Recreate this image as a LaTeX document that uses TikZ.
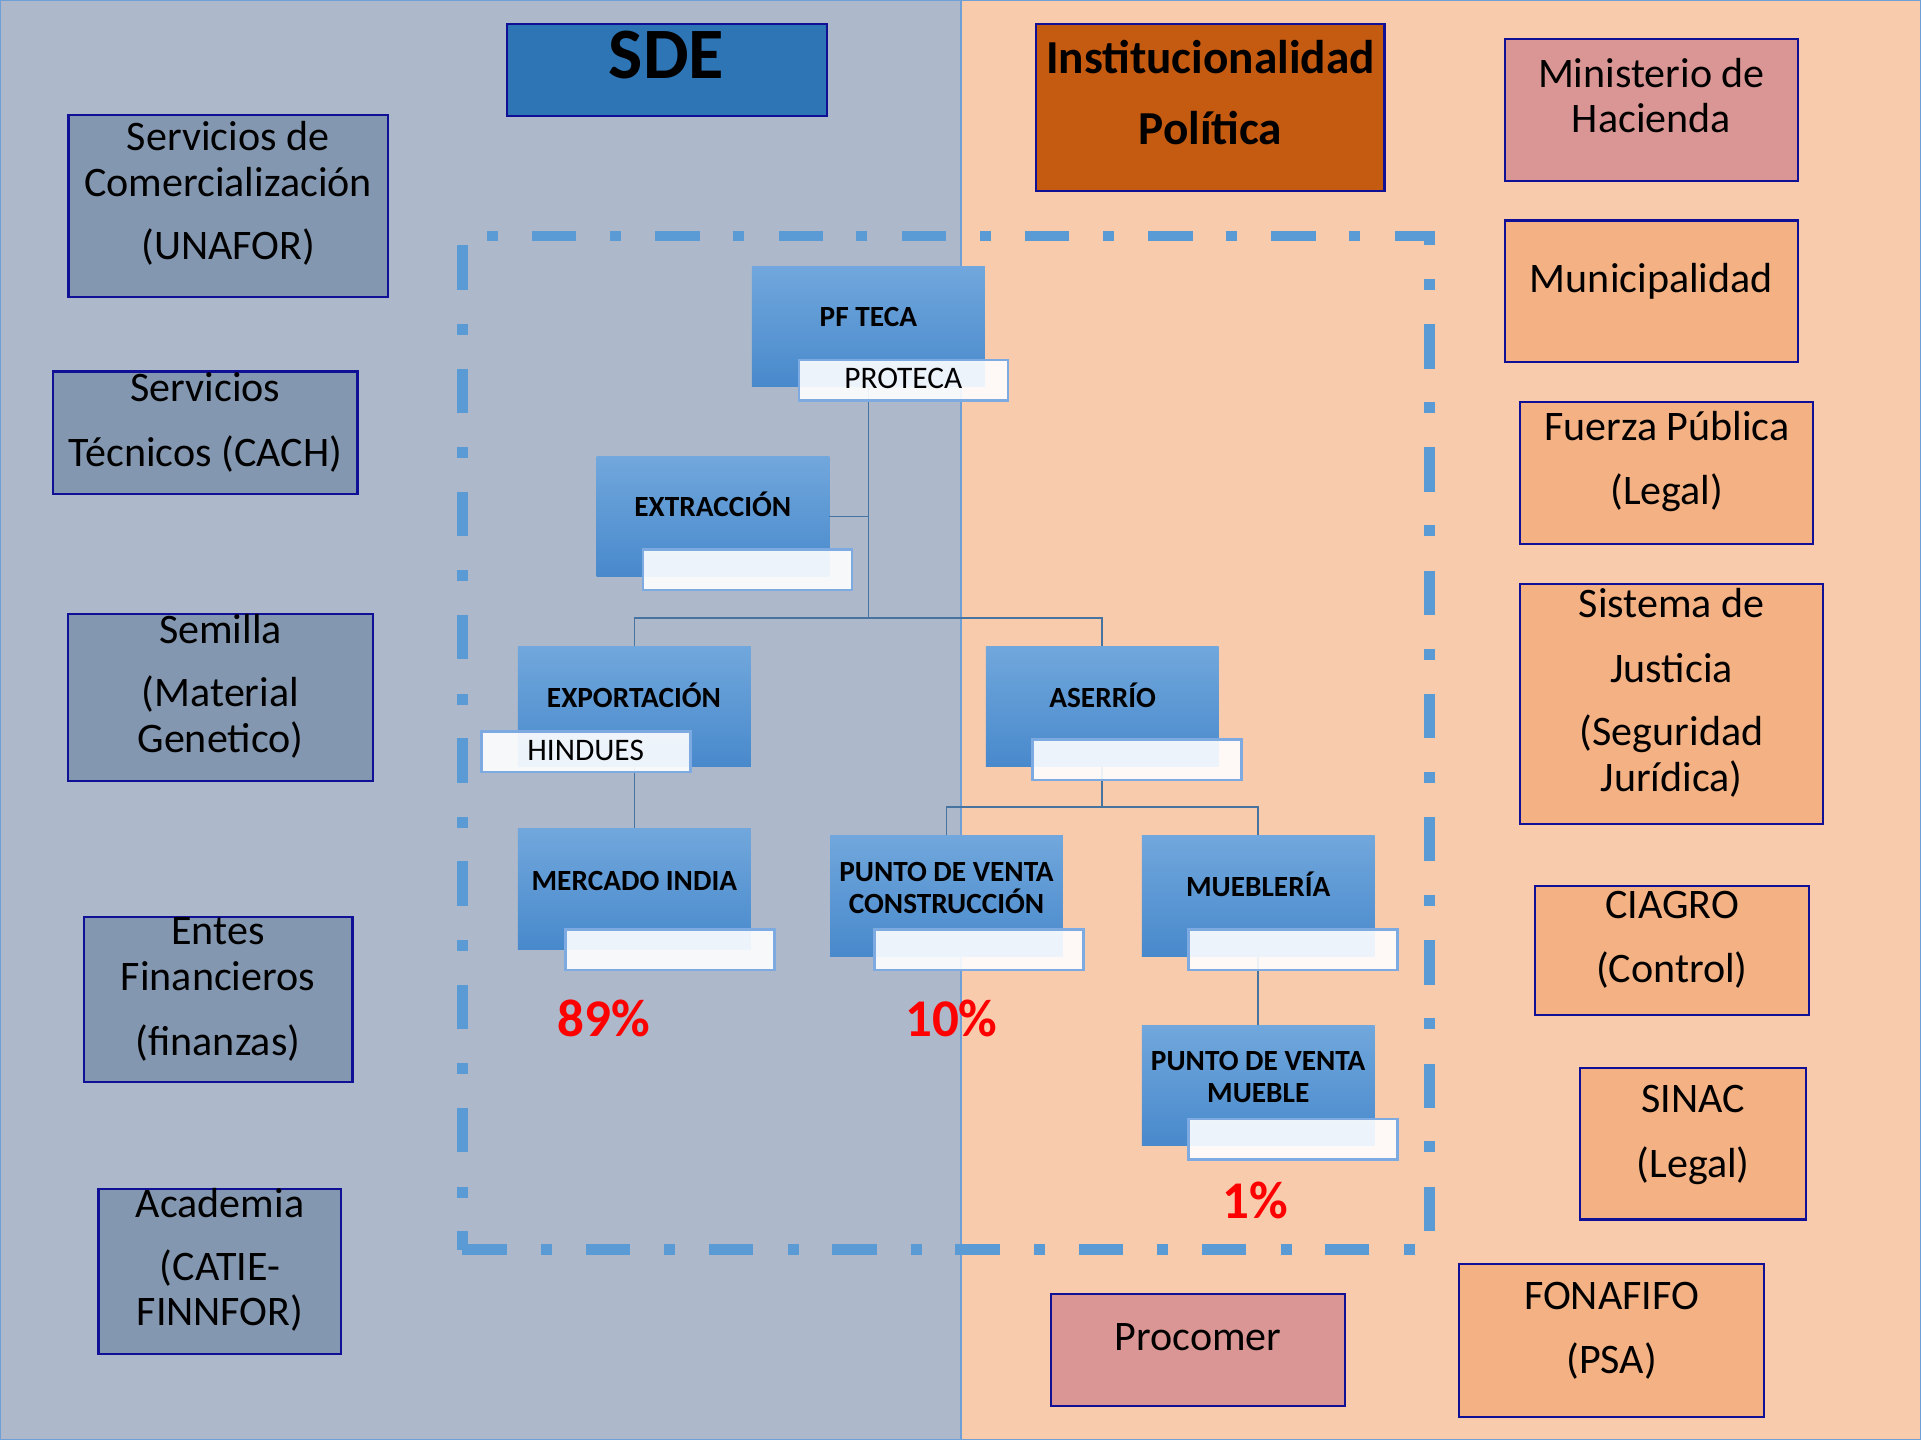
\documentclass[tikz,border=0pt]{standalone}
\usepackage{fontspec}
\setmainfont{Carlito}
\definecolor{bgL}{RGB}{173,185,202}
\definecolor{bgR}{RGB}{248,203,173}
\definecolor{edge}{RGB}{110,160,215}
\definecolor{navy}{RGB}{16,16,150}
\definecolor{slateF}{RGB}{132,151,176}
\definecolor{sdeF}{RGB}{46,117,182}
\definecolor{instF}{RGB}{197,90,17}
\definecolor{pinkF}{RGB}{218,150,148}
\definecolor{peachF}{RGB}{244,177,131}
\definecolor{frameC}{RGB}{91,155,213}
\definecolor{orgTop}{RGB}{113,167,220}
\definecolor{orgBot}{RGB}{72,137,204}
\definecolor{ttlB}{RGB}{125,170,225}
\definecolor{connC}{RGB}{70,115,160}
\tikzset{
  sbox/.style={rectangle, draw=navy, line width=0.5pt, inner sep=0pt, outer sep=0pt},
  orgbox/.style={rectangle, draw=none, inner sep=0pt, outer sep=0pt, top color=orgTop, bottom color=orgBot, minimum width=1.9cm, minimum height=0.985cm},
  ttlbox/.style={rectangle, draw=ttlB, line width=0.6pt, fill=white, fill opacity=0.9, inner sep=0pt, outer sep=0pt, minimum width=1.705cm, minimum height=0.33cm},
  bt/.style={anchor=base, inner sep=0pt, font=\fontsize{9.76pt}{11pt}\selectfont},
  orgt/.style={anchor=base, inner sep=0pt, font=\bfseries\fontsize{6.8pt}{8pt}\selectfont},
  ttlt/.style={anchor=base, inner sep=0pt, font=\fontsize{7.28pt}{8.5pt}\selectfont},
  pct/.style={anchor=base, inner sep=0pt, text={rgb,255:red,255;green,0;blue,0}, font=\bfseries\fontsize{12.3pt}{14pt}\selectfont},
  conn/.style={draw=connC, line width=0.4pt},
  frame/.style={draw=frameC, line width=2.47pt, dash pattern=on 10.30pt off 7.97pt on 2.56pt off 7.77pt}
}
\begin{document}
\begin{tikzpicture}[x=0.01cm, y=-0.01cm]
\useasboundingbox (0,0) rectangle (1568,1175.4);
% backgrounds
\fill[bgL] (0,0) rectangle (784.3,1175.4);
\fill[bgR] (784.3,0) rectangle (1568,1175.4);
\draw[edge, line width=0.45pt] (0,0) rectangle (784.3,1175.4);
\draw[edge, line width=0.45pt] (784.3,0) rectangle (1568,1175.4);

% dash-dot frame (starts at the lower left corner)
\draw[frame] (377.5,1020) -- (1167,1020) -- (1167,192.7) -- (377.5,192.7) -- cycle;

% left boxes
\node[sbox, fill=slateF, minimum width=2.604cm, minimum height=1.483cm] (sc) at (186.2,168.05) {};
\node[sbox, fill=slateF, minimum width=2.482cm, minimum height=0.997cm] (st) at (167.6,353.15) {};
\node[sbox, fill=slateF, minimum width=2.484cm, minimum height=1.368cm] (sem) at (180,569.3) {};
\node[sbox, fill=slateF, minimum width=2.193cm, minimum height=1.352cm] (ent) at (177.95,815.8) {};
\node[sbox, fill=slateF, minimum width=1.981cm, minimum height=1.347cm] (aca) at (179.55,1037.75) {};

% top boxes
\node[sbox, fill=sdeF, minimum width=2.61cm, minimum height=0.748cm] (sde) at (544.4,57) {};
\node[sbox, fill=instF, minimum width=2.84cm, minimum height=1.359cm] (inst) at (988,87.75) {};

% right boxes
\node[sbox, fill=pinkF, minimum width=2.389cm, minimum height=1.16cm] (hac) at (1348.05,90) {};
\node[sbox, fill=peachF, minimum width=2.389cm, minimum height=1.156cm] (mun) at (1348.05,237.8) {};
\node[sbox, fill=peachF, minimum width=2.39cm, minimum height=1.157cm] (fue) at (1360.5,385.85) {};
\node[sbox, fill=peachF, minimum width=2.47cm, minimum height=1.958cm] (jus) at (1364.5,574.7) {};
\node[sbox, fill=peachF, minimum width=2.237cm, minimum height=1.049cm] (cia) at (1364.65,775.75) {};
\node[sbox, fill=peachF, minimum width=1.838cm, minimum height=1.236cm] (sin) at (1381.9,933.6) {};
\node[sbox, fill=peachF, minimum width=2.484cm, minimum height=1.243cm] (fon) at (1315.5,1094.15) {};
\node[sbox, fill=pinkF, minimum width=2.397cm, minimum height=0.912cm] (pro) at (977.85,1101.9) {};

% box texts
\node[bt] (sc1) at (186.2,123) {Servicios de};
\node[bt] (sc2) at (186.2,160.5) {Comercialización};
\node[bt] (sc3) at (186.2,212.2) {(UNAFOR)};
\node[bt] (st1) at (167.6,327.9) {Servicios};
\node[bt] (st2) at (167.6,380.7) {Técnicos (CACH)};
\node[bt] (sem1) at (180,524.9) {Semilla};
\node[bt] (sem2) at (180,577) {(Material};
\node[bt] (sem3) at (180,614.3) {Genetico)};
\node[bt] (ent1) at (178,771.2) {Entes};
\node[bt] (ent2) at (178,808.4) {Financieros};
\node[bt] (ent3) at (178,861.7) {(finanzas)};
\node[bt] (aca1) at (179.6,993.4) {Academia};
\node[bt] (aca2) at (179.6,1044.9) {(CATIE-};
\node[bt] (aca3) at (179.6,1082.1) {FINNFOR)};

\node[anchor=base, inner sep=0pt, font=\bfseries\fontsize{16.8pt}{18pt}\selectfont] (sdet) at (544,63.9) {SDE};
\node[anchor=base, inner sep=0pt, font=\bfseries\fontsize{10.98pt}{12pt}\selectfont] (inst1) at (988,60) {Institucionalidad};
\node[anchor=base, inner sep=0pt, font=\bfseries\fontsize{10.98pt}{12pt}\selectfont] (inst2) at (988,118) {Política};

\node[bt] (hac1) at (1348,71.4) {Ministerio de};
\node[bt] (hac2) at (1348,108.5) {Hacienda};
\node[bt] (mun1) at (1348,238.5) {Municipalidad};
\node[bt] (fue1) at (1360.5,359.2) {Fuerza Pública};
\node[bt] (fue2) at (1360.5,411.6) {(Legal)};
\node[bt] (jus1) at (1364.5,504.3) {Sistema de};
\node[bt] (jus2) at (1364.5,557) {Justicia};
\node[bt] (jus3) at (1364.5,608.3) {(Seguridad};
\node[bt] (jus4) at (1364.5,645.9) {Jurídica)};
\node[bt] (cia1) at (1364.7,749.4) {CIAGRO};
\node[bt] (cia2) at (1364.7,801.7) {(Control)};
\node[bt] (sin1) at (1382,908.4) {SINAC};
\node[bt] (sin2) at (1382,961.1) {(Legal)};
\node[bt] (fon1) at (1315.5,1068.7) {FONAFIFO};
\node[bt] (fon2) at (1315.5,1121.4) {(PSA)};
\node[bt] (pro1) at (978,1102) {Procomer};

% org chart boxes
\node[orgbox] (pf) at (708.8,266.5) {};
\node[orgbox] (ext) at (582,421.5) {};
\node[orgbox] (exp) at (517.8,576.6) {};
\node[orgbox] (ase) at (899.7,576.6) {};
\node[orgbox] (mer) at (517.8,725.5) {};
\node[orgbox] (pvc) at (772.6,731.2) {};
\node[orgbox] (mue) at (1027,731.2) {};
\node[orgbox] (pvm) at (1027,886) {};
\coordinate (b1) at (708.8,504.3);
\coordinate (b2) at (899.7,659);

% connectors
\draw[conn] (pf.south) -- (b1);
\draw[conn] (ext.east) -- (ext.east -| b1);
\draw[conn] (exp.north) |- (b1) -| (ase.north);
\draw[conn] (exp.south) -- (mer.north);
\draw[conn] (ase.south) -- (b2);
\draw[conn] (pvc.north) |- (b2) -| (mue.north);
\draw[conn] (mue.south) -- (pvm.north);

% title boxes
\node[ttlbox] (pft) at (737.5,310.5) {};
\node[ttlbox] (extt) at (610.3,465.1) {};
\node[ttlbox] (expt) at (478.2,613.6) {};
\node[ttlbox] (aset) at (928,620) {};
\node[ttlbox] (mert) at (546.7,775.1) {};
\node[ttlbox] (pvct) at (799.1,775.1) {};
\node[ttlbox] (muet) at (1055.6,775.1) {};
\node[ttlbox] (pvmt) at (1055.6,929.8) {};

% org texts
\node[orgt] (pfl) at (708.8,266.7) {PF TECA};
\node[ttlt] (pftl) at (737.3,317) {PROTECA};
\node[orgt] (extl) at (581.8,422) {EXTRACCIÓN};
\node[orgt] (expl) at (517.5,577.1) {EXPORTACIÓN};
\node[ttlt] (exptl) at (478,621.1) {HINDUES};
\node[orgt] (asel) at (900,577.1) {ASERRÍO};
\node[orgt] (merl) at (517.8,726.7) {MERCADO INDIA};
\node[orgt] (pvcl1) at (772.6,719.9) {PUNTO DE VENTA};
\node[orgt] (pvcl2) at (772.6,745.3) {CONSTRUCCIÓN};
\node[orgt] (muel) at (1027,731.8) {MUEBLERÍA};
\node[orgt] (pvml1) at (1027,874) {PUNTO DE VENTA};
\node[orgt] (pvml2) at (1027,900) {MUEBLE};

% percentages
\node[pct] (p89) at (492.8,845.9) {89\%};
\node[pct] (p10) at (776.6,845.9) {10\%};
\node[pct] (p1) at (1024.9,994.3) {1\%};
\end{tikzpicture}
\end{document}
